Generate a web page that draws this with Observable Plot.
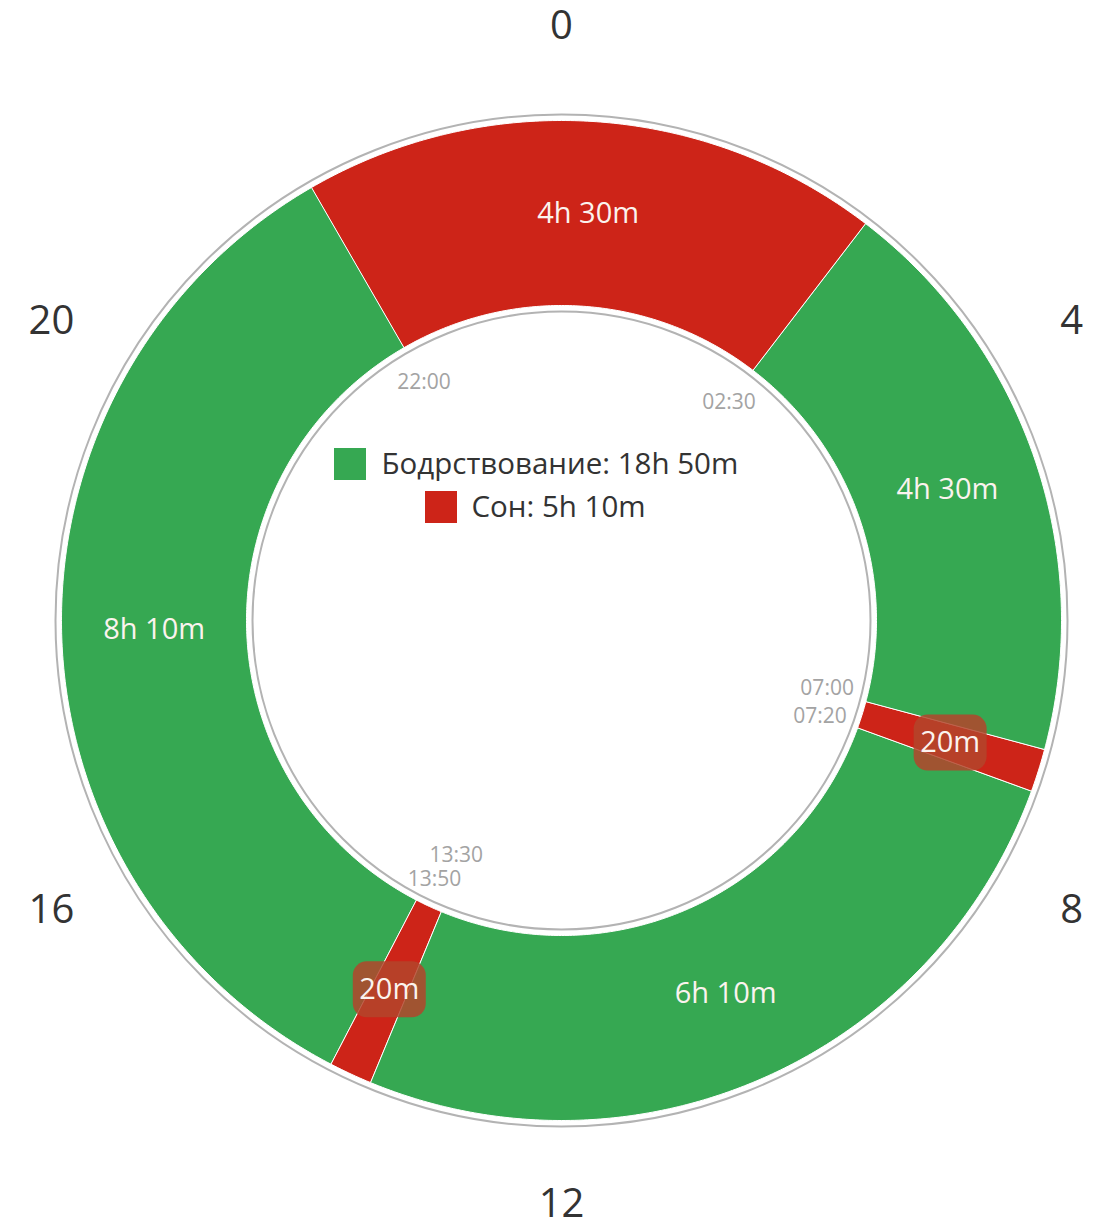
<!DOCTYPE html>
<html>
<head>
<meta charset="utf-8">
<script src="https://cdn.jsdelivr.net/npm/d3@7"></script>
<script src="https://cdn.jsdelivr.net/npm/@observablehq/plot@0.6"></script>
<style>
  html, body { margin: 0; padding: 0; background: #fff; }
  #chart svg { display: block; }
</style>
</head>
<body>
<div id="chart"></div>
<script>
// ---- data ----
const startTimes = ["22:00", "02:30", "07:00", "07:20", "13:30", "13:50"];
const states = ["Сон", "Бодрствование", "Сон", "Бодрствование", "Сон", "Бодрствование"];
const durationLabels = ["4h 30m", "4h 30m", "20m", "6h 10m", "20m", "8h 10m"];
const hourTicks = [0, 4, 8, 12, 16, 20];
const legendStates = ["Бодрствование", "Сон"];
const legendLabels = ["Бодрствование: 18h 50m", "Сон: 5h 10m"];
const stateColors = ["#36a852", "#cd2418"];

// ---- geometry helpers ----
const W = 1100, H = 1227, CX = 561, CY = 620;
const R_OUT = 500, R_IN = 315, R_LABEL = 407.5, R_TIME = 275, R_HOUR = 589;
const toH = s => { const [h, m] = s.split(":").map(Number); return h + m / 60; };
const ang = h => h / 24 * 2 * Math.PI;
const px = (r, h) => r * Math.sin(ang(h));
const py = (r, h) => -r * Math.cos(ang(h));

const segments = startTimes.map((s, i) => {
  const a = toH(s);
  let b = toH(startTimes[(i + 1) % startTimes.length]);
  if (b <= a) b += 24;
  return { id: i, start: s, a, b, state: states[i], label: durationLabels[i], mid: (a + b) / 2, dur: b - a };
});

const polys = segments.flatMap(seg => {
  const n = Math.max(4, Math.ceil((seg.b - seg.a) * 15 / 0.5));
  const pts = [];
  for (let k = 0; k <= n; k++) {
    const h = seg.a + (seg.b - seg.a) * k / n;
    pts.push({ id: seg.id, state: seg.state, x: px(R_OUT, h), y: py(R_OUT, h) });
  }
  for (let k = n; k >= 0; k--) {
    const h = seg.a + (seg.b - seg.a) * k / n;
    pts.push({ id: seg.id, state: seg.state, x: px(R_IN, h), y: py(R_IN, h) });
  }
  return pts;
});

const shortSegs = segments.filter(s => s.dur < 1);
const timeShift = { "13:30": -19, "13:50": 15, "07:00": -3, "07:20": 2 };

const chart = Plot.plot({
  width: W,
  height: H,
  margin: 0,
  style: { fontFamily: "'Open Sans', 'Noto Sans', sans-serif", background: "#fff" },
  x: { domain: [-CX, W - CX], range: [0, W], axis: null },
  y: { domain: [-CY, H - CY], range: [0, H], axis: null },
  color: { domain: legendStates, range: stateColors },
  marks: [
    // outer & inner grey rings
    Plot.dot([{ x: 0, y: 0 }], { x: "x", y: "y", r: R_OUT + 6, fill: "none", stroke: "#b3b3b3", strokeWidth: 2 }),
    // segments
    Plot.line(polys, { x: "x", y: "y", z: "id", fill: "state", stroke: "#ffffff", strokeWidth: 1, curve: "linear-closed" }),
    Plot.dot([{ x: 0, y: 0 }], { x: "x", y: "y", r: R_IN - 6, fill: "none", stroke: "#b3b3b3", strokeWidth: 2 }),
    // label backgrounds for short segments
    Plot.rect(shortSegs, {
      x1: d => px(R_LABEL, d.mid) - 36, x2: d => px(R_LABEL, d.mid) + 37,
      y1: d => py(R_LABEL, d.mid) - 28, y2: d => py(R_LABEL, d.mid) + 28,
      fill: "#b3452b", fillOpacity: 0.85, rx: 14
    }),
    // duration labels
    Plot.text(segments, {
      x: d => px(R_LABEL, d.mid), y: d => py(R_LABEL, d.mid), text: "label",
      fill: "#fbf3ee", fontSize: 29, textAnchor: "middle"
    }),
    // boundary time labels
    Plot.text(segments, {
      x: d => px(R_TIME, d.a), y: d => py(R_TIME, d.a) + (timeShift[d.start] || 0), text: "start",
      fill: "#a3a3a3", fontSize: 21, textAnchor: "middle"
    }),
    // hour ticks around
    Plot.text(hourTicks, {
      x: h => px(R_HOUR, h), y: h => py(R_HOUR, h), dy: -5, text: h => String(h),
      fill: "#333333", fontSize: 40, textAnchor: "middle"
    }),
    // legend
    Plot.rect(legendStates, {
      x1: (d, i) => [-227, -136][i], x2: (d, i) => [-195, -104][i],
      y1: (d, i) => [-172, -129][i], y2: (d, i) => [-140, -97][i],
      fill: d => d
    }),
    Plot.text(legendLabels, {
      x: (d, i) => [-180, -90][i], y: (d, i) => [-156, -113][i], text: d => d,
      fill: "#333333", fontSize: 29.5, textAnchor: "start"
    })
  ]
});
document.getElementById("chart").appendChild(chart);
</script>
</body>
</html>
